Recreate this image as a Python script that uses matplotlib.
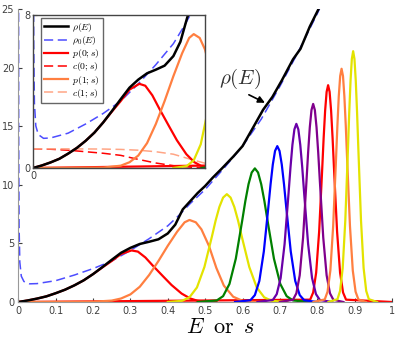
import numpy as np
from matplotlib import pyplot as plt
from matplotlib.lines import Line2D

plt.rcParams['mathtext.fontset'] = 'cm'

# density of states rho(E)
rho_E = [0, 0.025, 0.05, 0.075, 0.1, 0.125, 0.15, 0.175, 0.2, 0.225, 0.25, 0.275, 0.3,
         0.325, 0.35, 0.375, 0.4, 0.42, 0.44, 0.46, 0.48, 0.5, 0.52, 0.545, 0.575, 0.6,
         0.625, 0.655, 0.68, 0.705, 0.735, 0.755, 0.78, 0.805]
rho_val = [0, 0.13, 0.29, 0.48, 0.75, 1.05, 1.42, 1.85, 2.38, 2.98, 3.6, 4.2, 4.62,
           4.95, 5.14, 5.35, 5.85, 6.6, 7.9, 8.6, 9.3, 9.9, 10.6, 11.4, 12.4, 13.3,
           14.7, 16.4, 17.5, 18.9, 20.7, 21.6, 23.5, 25.1]

# rho_0(E)
rho0_E = [0.0004, 0.001, 0.002, 0.004, 0.008, 0.015, 0.03, 0.05, 0.1, 0.15, 0.2, 0.25,
          0.3, 0.35, 0.4, 0.43, 0.46, 0.5, 0.55, 0.6, 0.65, 0.7, 0.75, 0.8, 0.81]
rho0_val = [40, 14, 6.5, 3.4, 2.2, 1.75, 1.55, 1.57, 1.82, 2.3, 2.85, 3.5,
            4.4, 5.4, 6.5, 7.4, 8.4, 9.6, 11.4, 13.3, 15.6, 18.4, 21.4, 24.6, 25.3]

# c(0;s), c(1;s)
c_s = [0, 0.05, 0.1, 0.15, 0.2, 0.25, 0.3, 0.35, 0.4, 0.45, 0.5]
c0_val = [1.0, 0.98, 0.93, 0.85, 0.77, 0.66, 0.45, 0.26, 0.12, 0.04, 0.01]
c1_val = [1.0, 1.0, 1.0, 0.995, 0.99, 0.97, 0.93, 0.85, 0.72, 0.45, 0.2]

# p(n;s) curves
p0_s = [0, 0.025, 0.05, 0.075, 0.1, 0.125, 0.15, 0.175, 0.2, 0.225, 0.25, 0.275, 0.303,
        0.32, 0.34, 0.36, 0.388, 0.41, 0.437, 0.46, 0.48, 0.5, 0.53]
p0_val = [0, 0.13, 0.29, 0.48, 0.75, 1.05, 1.42, 1.85, 2.38, 2.95, 3.5, 4.1, 4.4,
          4.3, 3.8, 3.1, 2.17, 1.45, 0.72, 0.3, 0.1, 0.03, 0]
p1_s = [0, 0.2, 0.25, 0.275, 0.3, 0.325, 0.35, 0.375, 0.4, 0.425, 0.445, 0.458, 0.475,
        0.49, 0.51, 0.53, 0.55, 0.575, 0.6, 0.63, 0.66]
p1_val = [0, 0.02, 0.12, 0.3, 0.65, 1.3, 2.3, 3.5, 4.8, 6.0, 6.8, 7.0, 6.8,
          6.2, 4.8, 2.9, 1.4, 0.45, 0.1, 0.01, 0]
p2_s = [0.40, 0.438, 0.458, 0.478, 0.498, 0.518, 0.528, 0.538, 0.548, 0.558, 0.568,
        0.578, 0.588, 0.598, 0.618, 0.638, 0.658, 0.678, 0.72]
p2_val = [0, 0.1, 0.4, 1.24, 2.99, 5.58, 6.95, 8.11, 8.91, 9.2, 8.91,
          8.11, 6.95, 5.58, 2.99, 1.24, 0.4, 0.1, 0]
p3_s = [0.48, 0.531, 0.548, 0.565, 0.582, 0.599, 0.6075, 0.616, 0.6245, 0.633, 0.6415,
        0.650, 0.6585, 0.667, 0.684, 0.701, 0.718, 0.735, 0.78]
p3_val = [0, 0.13, 0.5, 1.54, 3.7, 6.92, 8.61, 10.05, 11.05, 11.4, 11.05,
          10.05, 8.61, 6.92, 3.7, 1.54, 0.5, 0.13, 0]
p4_s = [0.58, 0.621, 0.633, 0.645, 0.657, 0.669, 0.675, 0.681, 0.687, 0.693, 0.699,
        0.705, 0.711, 0.717, 0.729, 0.741, 0.753, 0.765, 0.8]
p4_val = [0, 0.15, 0.59, 1.8, 4.32, 8.07, 10.04, 11.73, 12.89, 13.3, 12.89,
          11.73, 10.04, 8.07, 4.32, 1.8, 0.59, 0.15, 0]
p5_s = [0.64, 0.681, 0.6915, 0.702, 0.7125, 0.723, 0.7283, 0.7335, 0.7388, 0.744, 0.7493,
        0.7545, 0.7598, 0.765, 0.7755, 0.786, 0.7965, 0.807, 0.84]
p5_val = [0, 0.17, 0.67, 2.05, 4.94, 9.23, 11.48, 13.41, 14.73, 15.2, 14.73,
          13.41, 11.48, 9.23, 4.94, 2.05, 0.67, 0.17, 0]
p6_s = [0.70, 0.735, 0.744, 0.753, 0.762, 0.771, 0.7755, 0.780, 0.7845, 0.789, 0.7935,
        0.798, 0.8025, 0.807, 0.816, 0.825, 0.834, 0.843, 0.87]
p6_val = [0, 0.19, 0.74, 2.28, 5.49, 10.26, 12.76, 14.91, 16.38, 16.9, 16.38,
          14.91, 12.76, 10.26, 5.49, 2.28, 0.74, 0.19, 0]
p7_s = [0, 0.781, 0.789, 0.797, 0.805, 0.813, 0.817, 0.821, 0.825, 0.829, 0.833,
        0.837, 0.841, 0.845, 0.853, 0.861, 0.869, 0.877, 1.0]
p7_val = [0, 0.2, 0.81, 2.5, 6.01, 11.23, 13.97, 16.32, 17.93, 18.5, 17.93,
          16.32, 13.97, 11.23, 6.01, 2.5, 0.81, 0.2, 0]
p8_s = [0.79, 0.82, 0.8275, 0.835, 0.8425, 0.85, 0.8538, 0.8575, 0.8613, 0.865, 0.8688,
        0.8725, 0.8763, 0.88, 0.8875, 0.895, 0.9025, 0.91, 0.93]
p8_val = [0, 0.22, 0.88, 2.69, 6.47, 12.08, 15.02, 17.55, 19.28, 19.9, 19.28,
          17.55, 15.02, 12.08, 6.47, 2.69, 0.88, 0.22, 0]
p9_s = [0.83, 0.854, 0.861, 0.868, 0.875, 0.882, 0.8855, 0.889, 0.8925, 0.896, 0.8995,
        0.903, 0.9065, 0.910, 0.917, 0.924, 0.931, 0.938, 0.96]
p9_val = [0, 0.24, 0.94, 2.89, 6.96, 12.99, 16.16, 18.87, 20.74, 21.4, 20.74,
          18.87, 16.16, 12.99, 6.96, 2.89, 0.94, 0.24, 0]

red = '#ff0000'
orange = '#ff7f40'
yellow = '#e3e300'
green = '#008000'
blue = '#0000ff'
purple1 = '#6a00a8'
purple2 = '#80008c'
light_orange = '#ffa585'
dash_blue = '#4d4dff'

# drawing order (p7 first so its zero baseline stays underneath)
peaks = [(p7_s, p7_val, red), (p0_s, p0_val, red), (p1_s, p1_val, orange),
         (p2_s, p2_val, yellow), (p3_s, p3_val, green), (p4_s, p4_val, blue),
         (p5_s, p5_val, purple1), (p6_s, p6_val, purple2), (p8_s, p8_val, orange),
         (p9_s, p9_val, yellow)]

xticks = [0, 0.1, 0.2, 0.3, 0.4, 0.5, 0.6, 0.7, 0.8, 0.9, 1]
xticklabels = ['0', '0.1', '0.2', '0.3', '0.4', '0.5', '0.6', '0.7', '0.8', '0.9', '1']
yticks = [0, 5, 10, 15, 20, 25]

fig = plt.figure(figsize=(3.99, 3.38), dpi=100)
ax = fig.add_axes([0.0459, 0.1065, 0.9366, 0.8669])

ax.plot(rho0_E, rho0_val, '--', color=dash_blue, lw=1.1, dashes=(6, 3))
for s, v, c in peaks:
    ax.plot(s, v, color=c, lw=1.6)
ax.plot(rho_E, rho_val, color='k', lw=1.8)

ax.set_xlim(0, 1)
ax.set_ylim(0, 25)
ax.set_xticks(xticks)
ax.set_xticklabels(xticklabels)
ax.set_yticks(yticks)
ax.tick_params(direction='in', length=3, labelsize=7, colors='#404040', pad=3)
for sp in ['top', 'right']:
    ax.spines[sp].set_visible(False)
for sp in ['left', 'bottom']:
    ax.spines[sp].set_color('#999999')
ax.set_xlabel(r'$E\;\;\mathrm{or}\;\;s$', fontsize=16)
ax.xaxis.set_label_coords(0.54, -0.05)

ax.annotate(r'$\rho(E)$', xy=(0.66, 17.0), xytext=(0.593, 19.0), fontsize=15,
            ha='center', va='center', color='#333333',
            arrowprops=dict(arrowstyle='-|>', color='k', lw=1.2, shrinkA=1, shrinkB=0,
                            mutation_scale=10, relpos=(0.55, 0.0)))

# inset
ins = fig.add_axes([0.0827, 0.503, 0.431, 0.4527])
ins.plot(rho0_E, rho0_val, '--', color=dash_blue, lw=1.1, dashes=(6, 3))
ins.plot(c_s, c0_val, '--', color=red, lw=1.1, dashes=(6, 3))
ins.plot(c_s, c1_val, '--', color=light_orange, lw=1.1, dashes=(6, 3))
for s, v, c in peaks:
    ins.plot(s, v, color=c, lw=1.6)
ins.plot(rho_E, rho_val, color='k', lw=1.8)
ins.set_xlim(0, 0.49)
ins.set_ylim(0, 8)
ins.set_xticks([0])
ins.set_yticks([0, 8])
ins.tick_params(direction='in', length=3, labelsize=7, colors='#404040', pad=2)
for sp in ins.spines.values():
    sp.set_color('#444444')
    sp.set_linewidth(1.0)

handles = [Line2D([], [], color='k', lw=1.8),
           Line2D([], [], color=dash_blue, lw=1.1, ls='--', dashes=(6, 3)),
           Line2D([], [], color=red, lw=1.6),
           Line2D([], [], color=red, lw=1.1, ls='--', dashes=(6, 3)),
           Line2D([], [], color=orange, lw=1.6),
           Line2D([], [], color=light_orange, lw=1.1, ls='--', dashes=(6, 3))]
labels = [r'$\rho(E)$', r'$\rho_0(E)$', '$p(0;s)$', '$c(0;s)$', '$p(1;s)$', '$c(1;s)$']
leg = ins.legend(handles, labels, loc='upper left', fontsize=7, frameon=True,
                 fancybox=False, edgecolor='#666666', framealpha=1,
                 handlelength=2.5, labelspacing=0.02, borderpad=0.3,
                 handletextpad=0.4, borderaxespad=0,
                 bbox_to_anchor=(8 / 172, 1 - 3 / 153))
leg.get_frame().set_linewidth(1.0)

fig.savefig('out.png', dpi=100)
